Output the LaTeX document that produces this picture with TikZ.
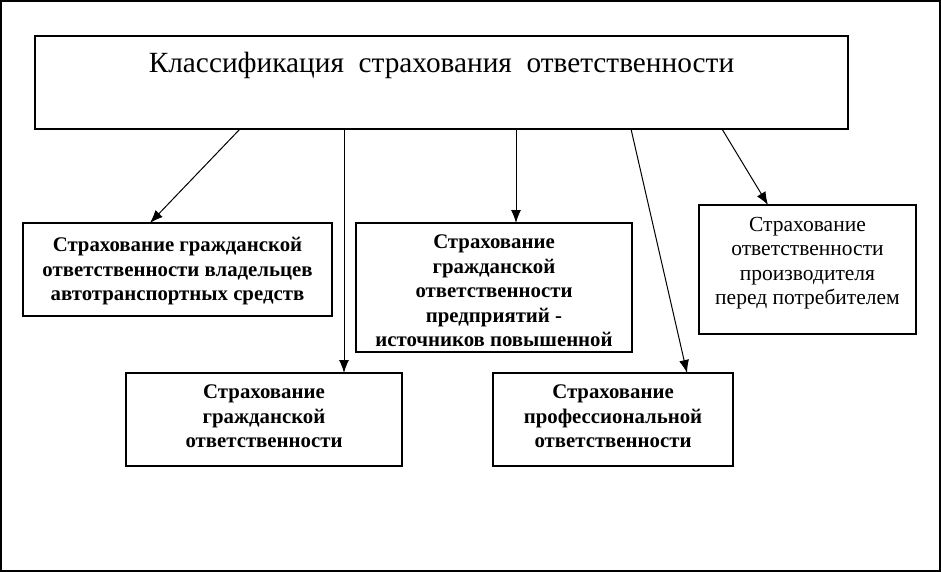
\documentclass[tikz,border=0pt]{standalone}
\usepackage{fontspec}
\setmainfont{Liberation Serif}
\usetikzlibrary{arrows.meta}
\begin{document}
\begin{tikzpicture}[x=1pt,y=-1pt,
  box/.style={draw,line width=1.6pt,inner sep=0pt},
  btxt/.style={font=\fontsize{20.8}{24.5}\selectfont\bfseries,align=center,inner sep=0pt,anchor=north},
  rtxt/.style={font=\fontsize{21.5}{24.5}\selectfont,align=center,inner sep=0pt,anchor=north},
  arr/.style={line width=1pt,-{Latex[length=13pt,width=10pt]}}]
\useasboundingbox (0,0) rectangle (941,572);
\draw[line width=1.6pt] (1,1) rectangle (940,571);
% boxes
\node[box,minimum width=813pt,minimum height=93pt] (top) at (441.5,82.5) {};
\node[font=\fontsize{29.3}{30}\selectfont,inner sep=0pt] (title) at (441.5,65) {Классификация\ \ страхования\ \ ответственности};
\node[box,minimum width=309pt,minimum height=93pt] (A) at (177.5,269.5) {};
\node[box,minimum width=276pt,minimum height=129pt] (B) at (494,287.5) {};
\node[box,minimum width=217pt,minimum height=129pt] (C) at (807.5,269.5) {};
\node[box,minimum width=276pt,minimum height=93pt] (D) at (264,419.5) {};
\node[box,minimum width=240pt,minimum height=93pt] (E) at (613,419.5) {};
% texts
\node[btxt] (tA) at (177.5,237) {Страхование гражданской\\ответственности владельцев\\автотранспортных средств};
\node[btxt] (tB) at (494,235) {Страхование\\гражданской\\ответственности\\предприятий -\\источников повышенной};
\node[rtxt] (tC) at (807.5,217) {Страхование\\ответственности\\производителя\\перед потребителем};
\node[btxt] (tD) at (264,385) {Страхование\\гражданской\\ответственности};
\node[btxt] (tE) at (613,385) {Страхование\\профессиональной\\ответственности};
% connector ends
\coordinate (s1) at (240,129);
\coordinate (s2) at (344,129);
\coordinate (s3) at (516,129);
\coordinate (s4) at (631,129);
\coordinate (s5) at (722,129);
\coordinate (eA) at (150,223);
\coordinate (eD) at (344,373);
\coordinate (eB) at (516,223);
\coordinate (eE) at (687,373);
\coordinate (eC) at (768,205);
\draw[arr] (s1) -- (eA);
\draw[arr] (s2) -- (eD);
\draw[arr] (s3) -- (eB);
\draw[arr] (s4) -- (eE);
\draw[arr] (s5) -- (eC);
\end{tikzpicture}
\end{document}
